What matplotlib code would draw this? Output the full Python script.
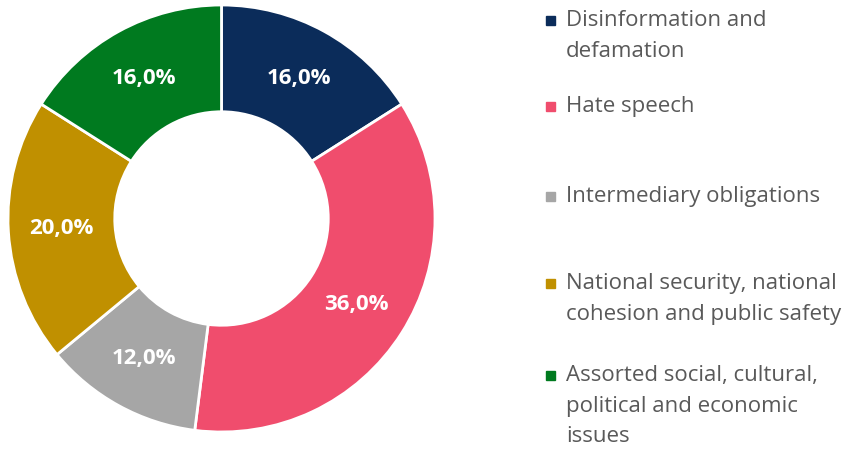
import matplotlib.pyplot as plt
from matplotlib.patches import Rectangle

categories = ["Disinformation and\ndefamation", "Hate speech", "Intermediary obligations",
              "National security, national\ncohesion and public safety",
              "Assorted social, cultural,\npolitical and economic\nissues"]
shares = [16.0, 36.0, 12.0, 20.0, 16.0]
colors = ["#0b2c5a", "#f04d6d", "#a6a6a6", "#c09000", "#007a1f"]

plt.rcParams['font.family'] = ['Open Sans', 'DejaVu Sans']

fig = plt.figure(figsize=(8.5, 4.49), dpi=100)

# donut
ax = fig.add_axes([8 / 850, 17 / 449, 427 / 850, 427 / 449])
wedges, texts, autotexts = ax.pie(
    shares, colors=colors, startangle=90, counterclock=False,
    autopct=lambda p: f"{p:.1f}%".replace(".", ","), pctdistance=0.75,
    wedgeprops=dict(width=0.5, edgecolor="white", linewidth=2))
for t in autotexts:
    t.set_color("white")
    t.set_fontweight("bold")
    t.set_fontsize(16)
ax.set_xlim(-1.0, 1.0)
ax.set_ylim(-1.0, 1.0)
ax.set_aspect("equal")
ax.axis("off")

# legend in pixel coordinates
lax = fig.add_axes([0, 0, 1, 1])
lax.set_xlim(0, 850)
lax.set_ylim(449, 0)
lax.axis("off")
legend_y = [20, 106, 196, 283, 375]
for lab, c, y in zip(categories, colors, legend_y):
    lax.add_patch(Rectangle((546, y - 4.5), 9, 9, color=c))
    lax.text(566, y - 10, lab, fontsize=16, color="#595959", va="top",
             linespacing=1.6)

fig.savefig("out.png", dpi=100)
